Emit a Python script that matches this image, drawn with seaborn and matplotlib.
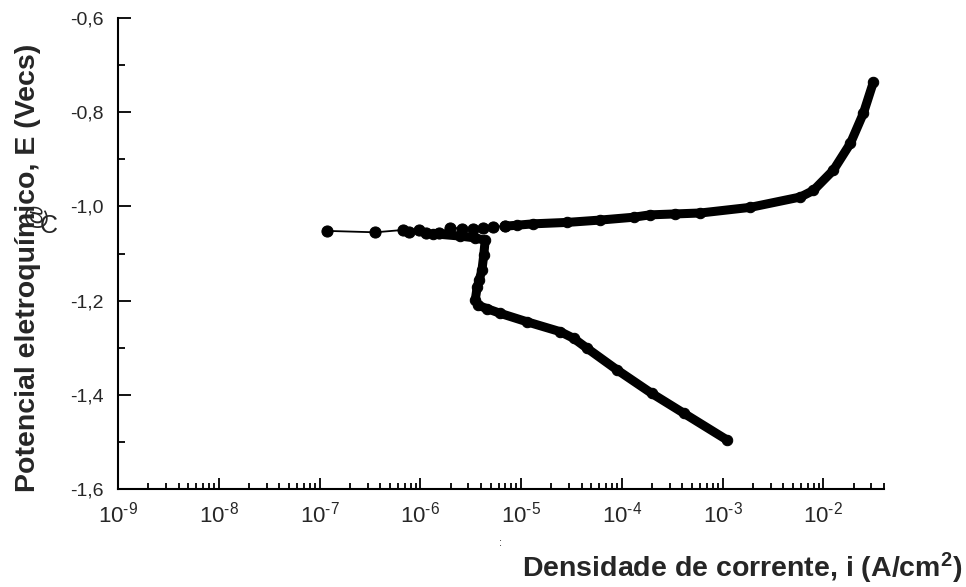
import numpy as np
import pandas as pd
import matplotlib
matplotlib.use("Agg")
import matplotlib.pyplot as plt
import matplotlib.ticker as mticker
import seaborn as sns

# ---- data (log10 of current density, potential in V) ----
# anodic branch: sparse separated points near Ecorr
up_sparse_logi = [-6.924, -6.446, -6.171, -6.116, -6.016, -5.941, -5.819, -5.703,
                  -5.587, -5.472, -5.373, -5.274, -5.158]
up_sparse_E = [-1.052, -1.055, -1.050, -1.055, -1.050, -1.057, -1.057, -1.045,
               -1.047, -1.047, -1.045, -1.043, -1.042]
# anodic branch: dense part
up_dense_logi = [-5.158, -5.043, -4.878, -4.544, -4.214, -3.883, -3.723, -3.469,
                 -3.220, -2.724, -2.227, -2.098, -1.900, -1.731, -1.602, -1.503]
up_dense_E = [-1.042, -1.040, -1.037, -1.034, -1.029, -1.023, -1.018, -1.016,
              -1.014, -1.002, -0.980, -0.966, -0.923, -0.866, -0.802, -0.736]
# cathodic branch
cat_logi = [-5.872, -5.604, -5.455, -5.356, -5.370, -5.388, -5.415, -5.435, -5.455,
            -5.425, -5.339, -5.207, -4.941, -4.611, -4.479, -4.346, -4.048, -3.703,
            -3.386, -2.955]
cat_E = [-1.058, -1.063, -1.067, -1.072, -1.103, -1.135, -1.156, -1.171, -1.199,
         -1.210, -1.217, -1.227, -1.245, -1.266, -1.280, -1.301, -1.347, -1.397,
         -1.439, -1.496]

y_ticks = [-1.6, -1.4, -1.2, -1.0, -0.8, -0.6]
x_ticks = [1e-9, 1e-8, 1e-7, 1e-6, 1e-5, 1e-4, 1e-3, 1e-2]

up_sparse = pd.DataFrame({"i": np.power(10.0, up_sparse_logi), "E": up_sparse_E})
up_dense = pd.DataFrame({"i": np.power(10.0, up_dense_logi), "E": up_dense_E})
cat = pd.DataFrame({"i": np.power(10.0, cat_logi), "E": cat_E})

sns.set_style("ticks")
plt.rcParams["font.family"] = ["Liberation Sans", "DejaVu Sans"]
plt.rcParams["mathtext.fontset"] = "custom"
plt.rcParams["mathtext.rm"] = "Liberation Sans"
plt.rcParams["mathtext.it"] = "Liberation Sans:italic"
plt.rcParams["mathtext.bf"] = "Liberation Sans:bold"

W, H = 966, 587
fig = plt.figure(figsize=(W / 100, H / 100), dpi=100)
ax = fig.add_axes([118 / W, 1 - 489 / H, (884 - 118) / W, (489 - 18) / H])

black = "#000000"
thick = dict(color=black, linewidth=6.5, solid_capstyle="round", solid_joinstyle="round",
             marker="o", markersize=7.5, markeredgecolor=black, markerfacecolor=black)
sns.lineplot(data=cat, x="i", y="E", sort=False, estimator=None, ax=ax, **thick)
sns.lineplot(data=up_dense, x="i", y="E", sort=False, estimator=None, ax=ax, **thick)
sns.lineplot(data=up_sparse, x="i", y="E", sort=False, estimator=None, ax=ax,
             color=black, linewidth=1.3, marker="o", markersize=8,
             markeredgecolor=black, markerfacecolor=black)

ax.set_xscale("log")
ax.set_xlim(1e-9, 4e-2)
ax.set_ylim(-1.6, -0.6)
ax.set_xlabel("")
ax.set_ylabel("")


def xfmt(v, pos):
    e = int(round(np.log10(v)))
    return "$\\mathdefault{10^{\\text{%d}}}$" % e


ax.set_xticks(x_ticks)
ax.xaxis.set_major_formatter(mticker.FuncFormatter(xfmt))
ax.xaxis.set_minor_locator(mticker.LogLocator(base=10, subs=np.arange(2, 10)))
ax.xaxis.set_minor_formatter(mticker.NullFormatter())
ax.set_yticks(y_ticks)
ax.yaxis.set_minor_locator(mticker.MultipleLocator(0.1))
ax.yaxis.set_major_formatter(mticker.FuncFormatter(lambda v, p: f"{v:.1f}".replace(".", ",")))

for s in ["top", "right"]:
    ax.spines[s].set_visible(False)
for s in ["left", "bottom"]:
    ax.spines[s].set_linewidth(1.5)
    ax.spines[s].set_color(black)

ax.tick_params(axis="both", which="both", direction="in", color=black, width=1.3)
ax.tick_params(axis="y", which="major", length=9, labelsize=14, pad=10)
ax.tick_params(axis="y", which="minor", length=5)
ax.tick_params(axis="x", which="major", length=8, labelsize=16, pad=9)
ax.tick_params(axis="x", which="minor", length=4)

fig.text(28 / W, 1 - 268 / H, "Potencial eletroquímico, E (Vecs)", rotation=90,
         ha="center", va="center", fontsize=20.5, fontweight="bold")
fig.text(35 / W, 1 - 214 / H, "@", rotation=90, ha="center", va="center", fontsize=18)
fig.text(49 / W, 1 - 226 / H, "C", ha="center", va="center", fontsize=18)
fig.text(962 / W, 1 - 577 / H, "Densidade de corrente, i (A/cm$\\mathbf{^2}$)",
         ha="right", va="baseline", fontsize=20.5, fontweight="bold")
fig.text(500 / W, 1 - 543 / H, ":", ha="center", va="center", fontsize=8)

fig.savefig("out.png", dpi=100, facecolor="white")
